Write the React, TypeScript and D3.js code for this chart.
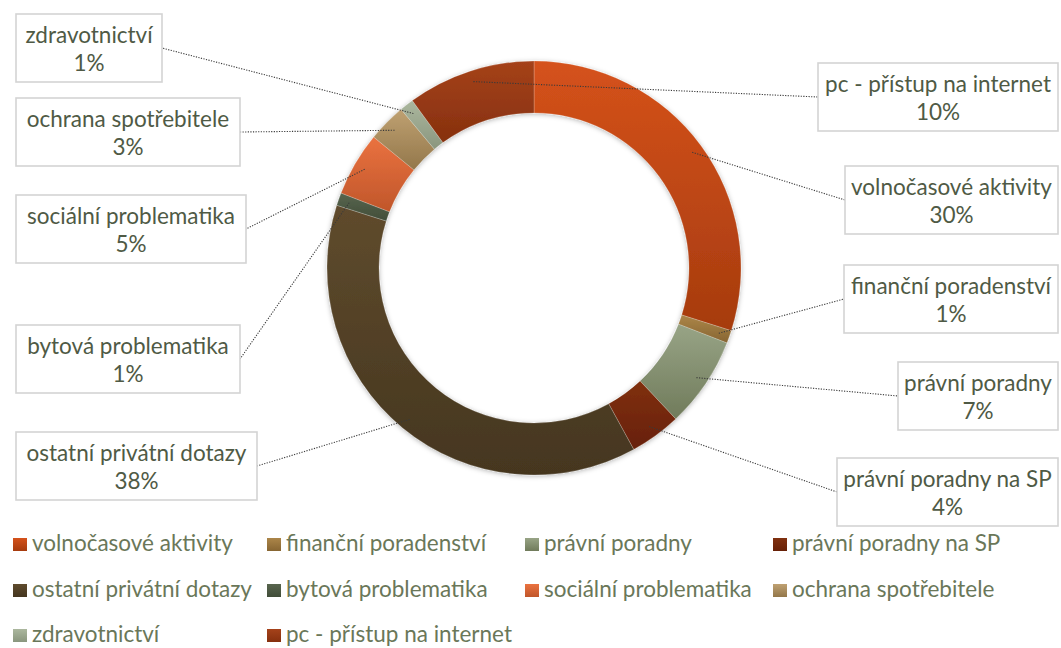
import React from "react";
import * as d3 from "d3";

const categories = [
  "volnočasové aktivity",
  "finanční poradenství",
  "právní poradny",
  "právní poradny na SP",
  "ostatní privátní dotazy",
  "bytová problematika",
  "sociální problematika",
  "ochrana spotřebitele",
  "zdravotnictví",
  "pc - přístup na internet",
];
const values = [29.9, 1.0, 7.1, 4.0, 37.9, 1.0, 5.0, 3.0, 1.1, 10.0];

// gradient colours (top, bottom) per category
const colorsTop = ["#D5521B", "#AC8649", "#98A486", "#80300F", "#5F4B2D", "#58654E", "#EA7240", "#BFA172", "#ABB79E", "#A5421A"];
const colorsBottom = ["#A63B0E", "#876532", "#707B5B", "#672007", "#45361F", "#414D39", "#C0562A", "#93774A", "#8A967E", "#86300E"];

// label box layout [x, y, width] (height shared)
const boxLayout: [number, number, number][] = [
  [845, 166, 213],
  [844, 265, 214],
  [898, 362, 160],
  [837, 458, 221],
  [16, 432, 241],
  [16, 325, 224],
  [16, 195, 230],
  [16, 98, 224],
  [16, 14, 146],
  [818, 63, 240],
];
const legendCols = [13, 267, 525, 773];
const legendRows = [538, 584, 629];

const W = 1061;
const H = 648;
const cx = 534;
const cy = 268;
const outerR = 207;
const innerR = 155;
const anchorR = 196;
const boxH = 68;
const FONT = "Lato, 'Open Sans', sans-serif";
const FS = 22.5;

export default function App() {
  const pie = d3
    .pie<number>()
    .sort(null)
    .value((d) => d)
    .startAngle(0)
    .endAngle(2 * Math.PI);
  const arcs = pie(values);
  const arcGen = d3.arc<d3.PieArcDatum<number>>().innerRadius(innerR).outerRadius(outerR);
  const anchorArc = d3.arc<d3.PieArcDatum<number>>().innerRadius(anchorR).outerRadius(anchorR);
  const pct = d3.format(".0f");
  const total = d3.sum(values);

  return (
    <svg
      width={W}
      height={H}
      style={{ position: "absolute", left: 0, top: 0, background: "#fff" }}
      fontFamily={FONT}
    >
      <defs>
        {categories.map((c, i) => (
          <linearGradient key={c} id={`g${i}`} x1="0" y1="0" x2="0" y2="1">
            <stop offset="0" stopColor={colorsTop[i]} />
            <stop offset="1" stopColor={colorsBottom[i]} />
          </linearGradient>
        ))}
        <filter id="shadow" x="-20%" y="-20%" width="140%" height="140%">
          <feDropShadow dx="0" dy="1" stdDeviation="2.5" floodColor="#000" floodOpacity="0.3" />
        </filter>
      </defs>

      <g transform={`translate(${cx},${cy})`} filter="url(#shadow)">
        {arcs.map((a, i) => (
          <path key={i} d={arcGen(a) || ""} fill={`url(#g${i})`} stroke="#ffffff" strokeOpacity={0.35} strokeWidth={0.6} />
        ))}
      </g>

      {/* leader lines */}
      {arcs.map((a, i) => {
        const [ax, ay] = anchorArc.centroid(a);
        const [bx, by, bw] = boxLayout[i];
        const leftSide = bx < cx;
        const ex = leftSide ? bx + bw : bx;
        const ey = by + boxH / 2;
        return (
          <line
            key={i}
            x1={cx + ax}
            y1={cy + ay}
            x2={ex}
            y2={ey}
            stroke="#3a3a3a"
            strokeWidth={1.1}
            strokeDasharray="1.2 1.4"
          />
        );
      })}

      {/* label boxes */}
      {arcs.map((a, i) => {
        const [bx, by, bw] = boxLayout[i];
        return (
          <g key={i}>
            <rect x={bx} y={by} width={bw} height={boxH} fill="#fff" stroke="#d4d4d4" strokeWidth={1.6} />
            <text x={bx + bw / 2} y={by + 29} textAnchor="middle" fontSize={FS} fill="#4f5a45">
              {categories[i]}
            </text>
            <text x={bx + bw / 2} y={by + 57} textAnchor="middle" fontSize={FS} fill="#4f5a45">
              {pct((values[i] / total) * 100)}%
            </text>
          </g>
        );
      })}

      {/* legend */}
      {categories.map((c, i) => {
        const x = legendCols[i % 4];
        const y = legendRows[Math.floor(i / 4)];
        return (
          <g key={c}>
            <rect x={x} y={y} width={14} height={13} fill={`url(#g${i})`} />
            <text x={x + 19} y={y + 13} fontSize={FS} fill="#6a7759">
              {c}
            </text>
          </g>
        );
      })}
    </svg>
  );
}
